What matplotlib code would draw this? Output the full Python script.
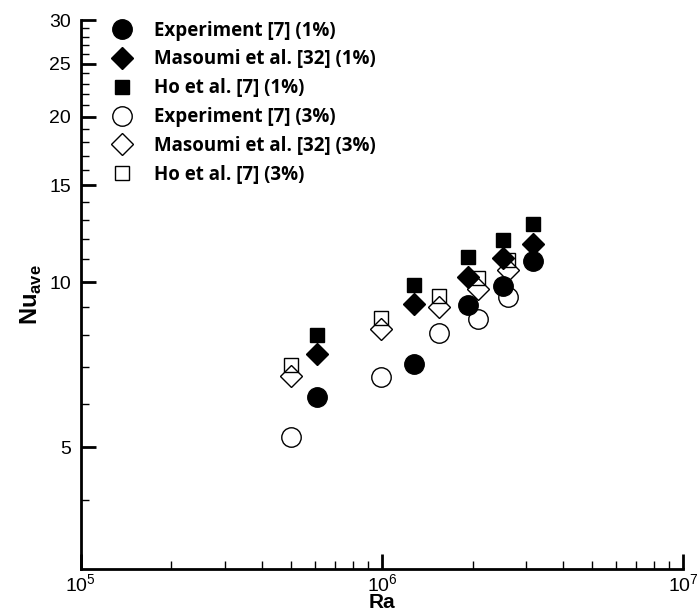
import matplotlib
matplotlib.use("Agg")
import matplotlib.pyplot as plt
from matplotlib.ticker import LogLocator, FixedLocator, NullFormatter

plt.rcParams['font.family'] = ['Liberation Sans', 'DejaVu Sans']
plt.rcParams['mathtext.fontset'] = 'custom'
plt.rcParams['mathtext.rm'] = 'Liberation Sans'
plt.rcParams['mathtext.bf'] = 'Liberation Sans:bold'

# Ra values (1% and 3% volume fraction)
ra_1 = [6.1e5, 1.28e6, 1.93e6, 2.52e6, 3.18e6]
ra_3 = [5.0e5, 9.9e5, 1.55e6, 2.08e6, 2.62e6]

# average Nusselt numbers
exp_1 = [6.17, 7.09, 9.08, 9.83, 10.92]
mas_1 = [7.39, 9.12, 10.21, 11.06, 11.73]
ho_1 = [8.01, 9.87, 11.10, 11.93, 12.75]
exp_3 = [5.22, 6.71, 8.07, 8.56, 9.39]
mas_3 = [6.74, 8.21, 9.01, 9.71, 10.52]
ho_3 = [7.06, 8.60, 9.43, 10.17, 10.97]

labels = ['Experiment [7] (1%)', 'Masoumi et al. [32] (1%)', 'Ho et al. [7] (1%)',
          'Experiment [7] (3%)', 'Masoumi et al. [32] (3%)', 'Ho et al. [7] (3%)']

fig = plt.figure(figsize=(6.97, 6.15), dpi=100)
ax = fig.add_axes([0.116, 0.075, 0.864, 0.892])

ax.plot(ra_1, exp_1, 'o', ms=14, mfc='black', mec='black', label=labels[0])
ax.plot(ra_1, mas_1, 'D', ms=11, mfc='black', mec='black', label=labels[1])
ax.plot(ra_1, ho_1, 's', ms=10, mfc='black', mec='black', label=labels[2])
ax.plot(ra_3, exp_3, 'o', ms=14, mfc='none', mec='black', mew=1, label=labels[3])
ax.plot(ra_3, mas_3, 'D', ms=11, mfc='none', mec='black', mew=1, label=labels[4])
ax.plot(ra_3, ho_3, 's', ms=10, mfc='none', mec='black', mew=1, label=labels[5])

ax.set_xscale('log')
ax.set_yscale('log')
ax.set_xlim(1e5, 1e7)
ax.set_ylim(3, 30)

ax.yaxis.set_major_locator(FixedLocator([5, 10, 15, 20, 25, 30]))
ax.yaxis.set_minor_locator(FixedLocator([4, 6, 7, 8, 9, 11, 12, 13, 14, 16, 17, 18, 19,
                                         21, 22, 23, 24, 26, 27, 28, 29]))
ax.set_yticklabels(['5', '10', '15', '20', '25', '30'])
ax.yaxis.set_minor_formatter(NullFormatter())
ax.xaxis.set_major_locator(LogLocator(base=10))
ax.xaxis.set_minor_locator(LogLocator(base=10, subs=range(2, 10)))
ax.xaxis.set_minor_formatter(NullFormatter())

for s in ['top', 'right']:
    ax.spines[s].set_visible(False)
for s in ['left', 'bottom']:
    ax.spines[s].set_linewidth(2)

ax.tick_params(which='major', direction='in', length=11, width=2, labelsize=14)
ax.tick_params(which='minor', direction='in', length=6, width=1)
ax.tick_params(axis='y', which='major', pad=7)
ax.tick_params(axis='x', which='major', pad=3)

ax.set_xlabel('Ra', fontsize=15, fontweight='bold')
ax.xaxis.set_label_coords(0.5, -0.044)
ax.set_ylabel(r'$\mathbf{Nu}_{\mathbf{ave}}$', fontsize=17, labelpad=4)

leg = ax.legend(loc='upper left', bbox_to_anchor=(0.025, 1.013), frameon=False,
                prop={'family': 'Open Sans', 'weight': 'bold', 'size': 13.5},
                handletextpad=0.7, labelspacing=0.47, borderaxespad=0)

fig.savefig('out.png', dpi=100)
